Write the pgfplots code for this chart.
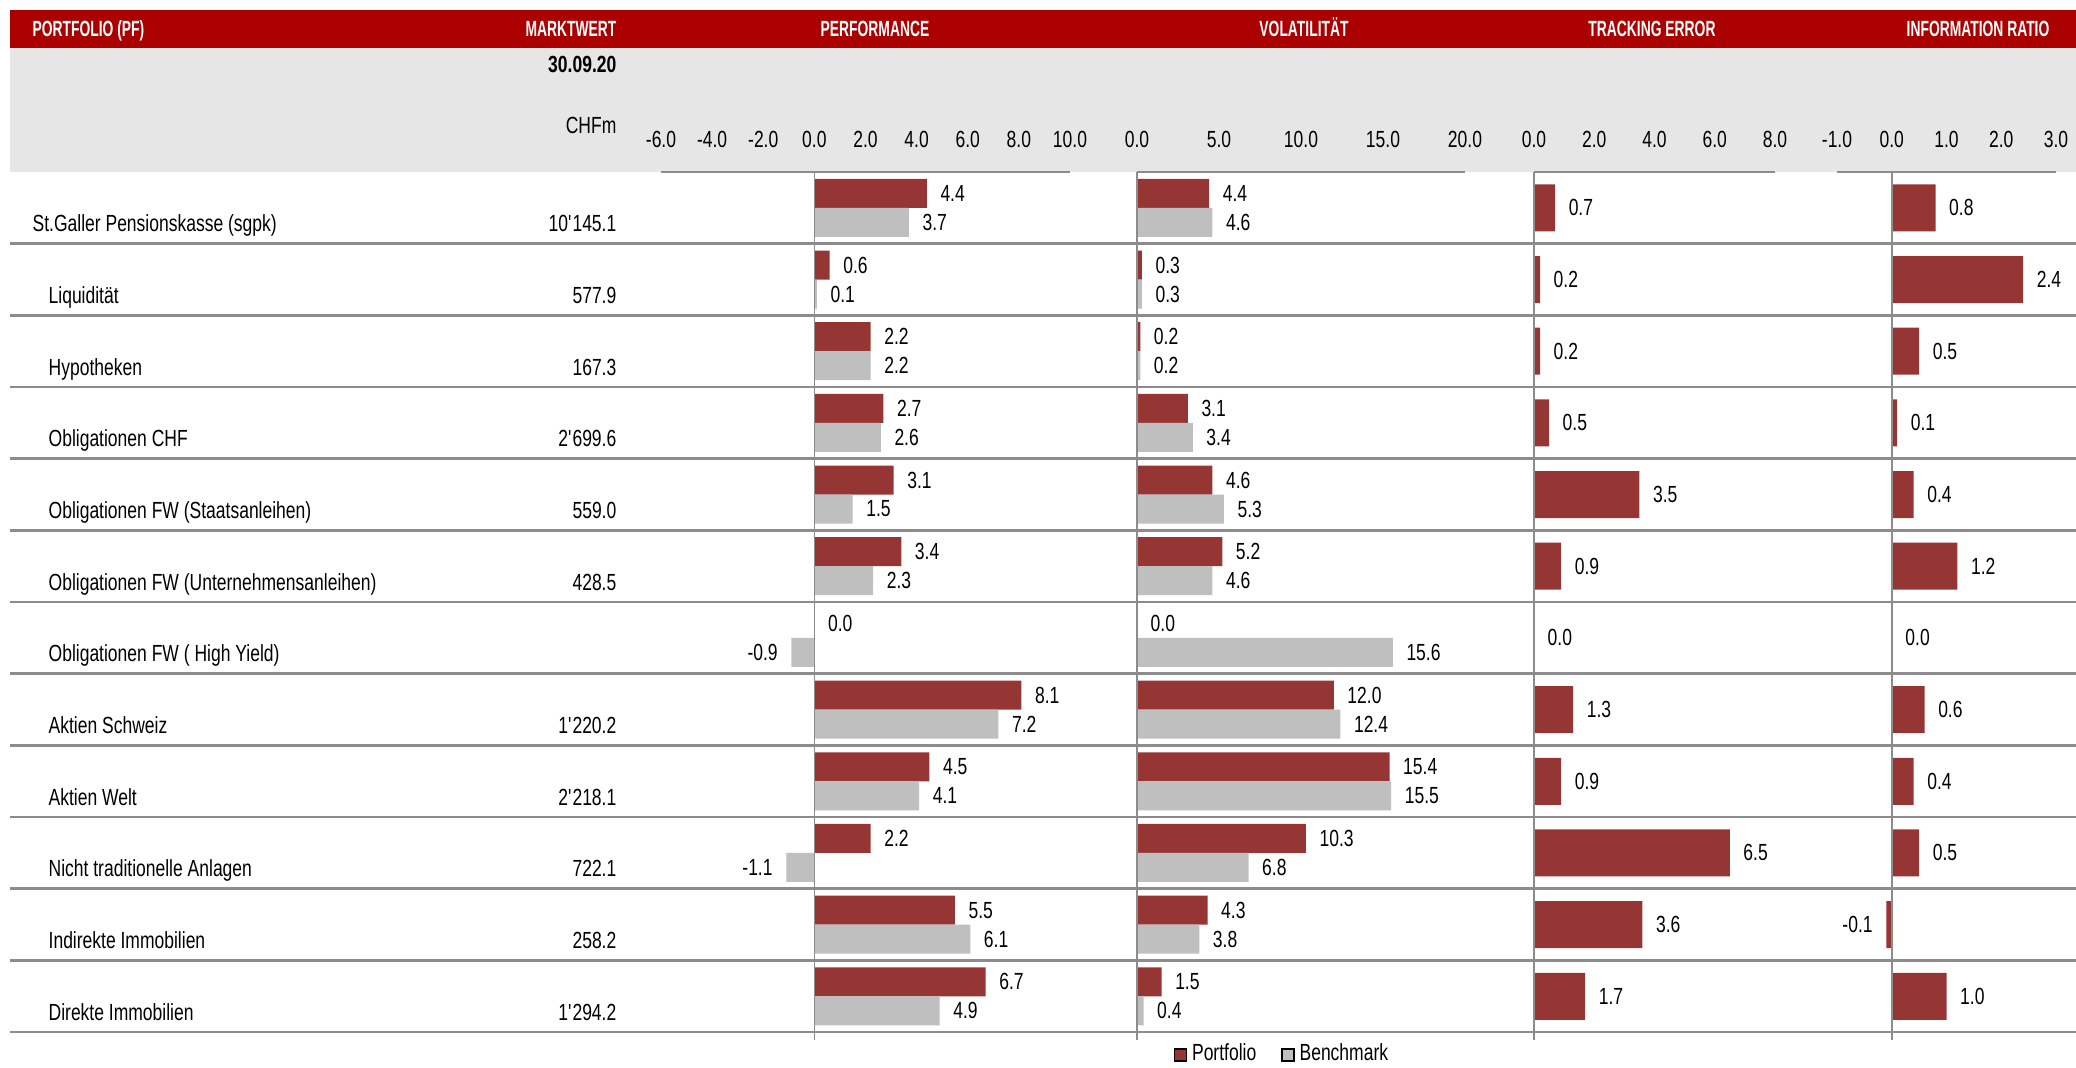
\documentclass[border=0pt]{standalone}
\usepackage{pgfplots}
\pgfplotsset{compat=1.18}
\usepackage{pgfplotstable}
\usepackage{fontspec}
\setmainfont{Liberation Sans}[FakeStretch=0.75]
\newfontfamily\hdrfont{Liberation Sans}[FakeStretch=0.63]

\definecolor{hdrred}{HTML}{AA0000}
\definecolor{band}{HTML}{E6E6E6}
\definecolor{pfred}{HTML}{963634}
\definecolor{bmgray}{HTML}{BFBFBF}
\definecolor{rule}{HTML}{8C8C8C}

% pos 12 = first row at the top
\pgfplotstableread{
pos perfP perfB volP volB te ir
12 4.4 3.7 4.4 4.6 0.7 0.8
11 0.6 0.1 0.3 0.3 0.2 2.4
10 2.2 2.2 0.2 0.2 0.2 0.5
9 2.7 2.6 3.1 3.4 0.5 0.1
8 3.1 1.5 4.6 5.3 3.5 0.4
7 3.4 2.3 5.2 4.6 0.9 1.2
6 0.0 -0.9 0.0 15.6 0.0 0.0
5 8.1 7.2 12.0 12.4 1.3 0.6
4 4.5 4.1 15.4 15.5 0.9 0.4
3 2.2 -1.1 10.3 6.8 6.5 0.5
2 5.5 6.1 4.3 3.8 3.6 -0.1
1 6.7 4.9 1.5 0.4 1.7 1.0
}\data

\pgfplotsset{
  panel/.style={
    scale only axis, height=260.4pt,
    ymin=0.39, ymax=12.5, ytick=\empty,
    axis x line*=top, axis y line=none,
    axis line style={rule, line width=0.5pt},
    major tick length=0pt,
    xticklabel style={font=\fontsize{7}{8.4}\selectfont, anchor=base, yshift=7.3pt,
      /pgf/number format/.cd, fixed, fixed zerofill, precision=1, assume math mode=true},
    xbar, point meta=x,
    nodes near coords={\pgfmathprintnumber[fixed,fixed zerofill,precision=1,assume math mode=true]{\pgfplotspointmeta}},
    nodes near coords style={font=\fontsize{7}{8.4}\selectfont, text=black, inner xsep=3.9pt, inner ysep=0pt},
    clip=false,
  },
  pf/.style={fill=pfred, draw=none, bar width=8.7pt, bar shift=4.35pt},
  bm/.style={fill=bmgray, draw=none, bar width=8.7pt, bar shift=-4.35pt},
  one/.style={fill=pfred, draw=none, bar width=14.1pt, bar shift=0pt},
}
\newcommand\zeroline{\draw[rule, line width=0.5pt] (axis cs:0,0.39) -- (axis cs:0,12.5);}

\begin{document}
\begin{tikzpicture}[x=0.3pt, y=-0.3pt, font=\fontsize{7}{8.4}\selectfont]
% header bands
\fill[hdrred] (10,10) rectangle (2076,48);
\fill[band] (10,48) rectangle (2076,172);
\begin{scope}[every node/.style={inner sep=0pt, text=white, font=\hdrfont\bfseries\fontsize{6.6}{8}\selectfont}]
\node[anchor=base west] at (32,36) {PORTFOLIO (PF)};
\node[anchor=base east] at (617,36) {MARKTWERT};
\node[anchor=base] at (875,36) {PERFORMANCE};
\node[anchor=base] at (1304,36) {VOLATILITÄT};
\node[anchor=base] at (1652,36) {TRACKING ERROR};
\node[anchor=base] at (1978,36) {INFORMATION RATIO};
\end{scope}
\node[anchor=base east, inner sep=0pt, font=\bfseries\fontsize{7}{8.4}\selectfont] at (617,72) {30.09.20};
\node[anchor=base east, inner sep=0pt] at (617,133) {CHFm};

% table rows
\foreach \name/\mv [count=\i] in {
  {St.Galler Pensionskasse (sgpk)}/{10\textquotesingle145.1},
  {Liquidität}/{577.9},
  {Hypotheken}/{167.3},
  {Obligationen CHF}/{2\textquotesingle699.6},
  {Obligationen FW (Staatsanleihen)}/{559.0},
  {Obligationen FW (Unternehmensanleihen)}/{428.5},
  {Obligationen FW ( High Yield)}/{},
  {Aktien Schweiz}/{1\textquotesingle220.2},
  {Aktien Welt}/{2\textquotesingle218.1},
  {Nicht traditionelle Anlagen}/{722.1},
  {Indirekte Immobilien}/{258.2},
  {Direkte Immobilien}/{1\textquotesingle294.2}}{
  \pgfmathsetmacro\yb{172+\i*71.67-12}
  \pgfmathsetmacro\ys{172+\i*71.67}
  \pgfmathsetmacro\xl{ifthenelse(\i==1,32,48)}
  \node[anchor=base west, inner sep=0pt] at (\xl,\yb) {\name};
  \node[anchor=base east, inner sep=0pt] at (617,\yb) {\mv};
  \draw[rule, line width=0.8pt] (10,\ys) -- (2076,\ys);
}

% Performance
\begin{axis}[panel, at={(198.3pt,-51.6pt)}, anchor=north west, width=122.7pt,
  xmin=-6, xmax=10, xtick={-6,-4,...,10}]
\addplot[pf] table[x=perfP, y=pos] {\data};
\addplot[bm] table[x=perfB, y=pos] {\data};
\zeroline
\end{axis}

% Volatilitaet
\begin{axis}[panel, at={(341.1pt,-51.6pt)}, anchor=north west, width=98.4pt,
  xmin=0, xmax=20, xtick={0,5,...,20},
  legend columns=2,
  legend style={at={(0.11,-0.0173)}, anchor=west, draw=none, fill=none, inner sep=0pt,
    font=\fontsize{7}{8.4}\selectfont, nodes={inner sep=1.5pt},
    /tikz/every even column/.append style={column sep=6pt}},
  legend image code/.code={\draw[#1] (0pt,-1.8pt) rectangle (3.6pt,1.8pt);}]
\addplot[pf] table[x=volP, y=pos] {\data};
\addplot[bm] table[x=volB, y=pos] {\data};
\zeroline
\legend{Portfolio, Benchmark}
\end{axis}

% Tracking Error
\begin{axis}[panel, at={(460.2pt,-51.6pt)}, anchor=north west, width=72.3pt,
  xmin=0, xmax=8, xtick={0,2,...,8}]
\addplot[one] table[x=te, y=pos] {\data};
\zeroline
\end{axis}

% Information Ratio
\begin{axis}[panel, at={(551.1pt,-51.6pt)}, anchor=north west, width=65.7pt,
  xmin=-1, xmax=3, xtick={-1,0,...,3}]
\addplot[one] table[x=ir, y=pos] {\data};
\zeroline
\end{axis}

\pgfresetboundingbox
\path (0,0) rectangle (2076,1067);
\end{tikzpicture}
\end{document}
